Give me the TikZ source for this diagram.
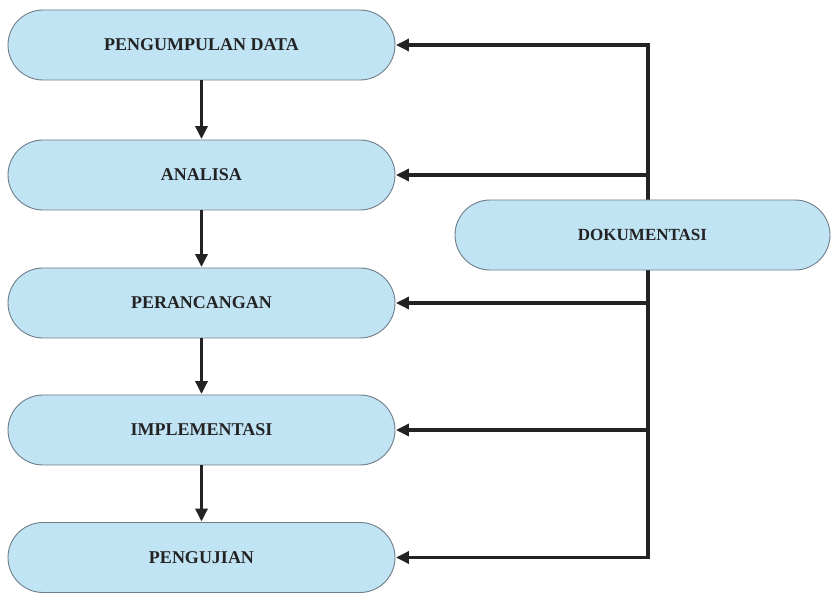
\documentclass[tikz,border=0pt]{standalone}
\usepackage{fontspec}
\setmainfont{Liberation Serif}
\usetikzlibrary{arrows.meta}
\definecolor{boxfill}{RGB}{192,228,244}
\definecolor{boxline}{RGB}{110,125,135}
\definecolor{ink}{RGB}{35,35,35}
\tikzset{
  stage/.style={draw=boxline, line width=0.9pt, fill=boxfill, rounded corners=35pt,
    minimum width=387pt, minimum height=70pt, inner sep=0pt,
    font=\fontsize{18}{21}\selectfont\bfseries, text=ink},
  docbox/.style={stage, minimum width=375pt, font=\fontsize{17}{20}\selectfont\bfseries},
  flow/.style={draw=ink, line width=3.2pt,
    -{Triangle[length=13pt,width=12pt]}, shorten >=0.5pt},
  trunk/.style={draw=ink, line width=3.2pt}
}
\begin{document}
\begin{tikzpicture}[x=1pt,y=-1pt]
  \useasboundingbox (0,0) rectangle (831,593);

  % process stages
  \node[stage] (s1) at (201.5,45)  {PENGUMPULAN DATA};
  \node[stage] (s2) at (201.5,175) {ANALISA};
  \node[stage] (s3) at (201.5,303) {PERANCANGAN};
  \node[stage] (s4) at (201.5,430) {IMPLEMENTASI};
  \node[stage] (s5) at (201.5,557.5) {PENGUJIAN};

  % feedback trunk
  \coordinate (t1) at (648,45);
  \coordinate (t2) at (648,175);
  \coordinate (t3) at (648,303);
  \coordinate (t4) at (648,430);
  \coordinate (t5) at (648,557.5);
  \draw[trunk, line cap=rect] (t1) -- (t5);

  % documentation box sits over the trunk
  \node[docbox] (doc) at (642.5,235) {DOKUMENTASI};

  % sequential flow
  \draw[flow] (s1) -- (s2);
  \draw[flow] (s2) -- (s3);
  \draw[flow] (s3) -- (s4);
  \draw[flow] (s4) -- (s5);

  % feedback arrows
  \draw[flow] (t1) -- (s1.east);
  \draw[flow] (t2) -- (s2.east);
  \draw[flow] (t3) -- (s3.east);
  \draw[flow] (t4) -- (s4.east);
  \draw[flow] (t5) -- (s5.east);
\end{tikzpicture}
\end{document}
